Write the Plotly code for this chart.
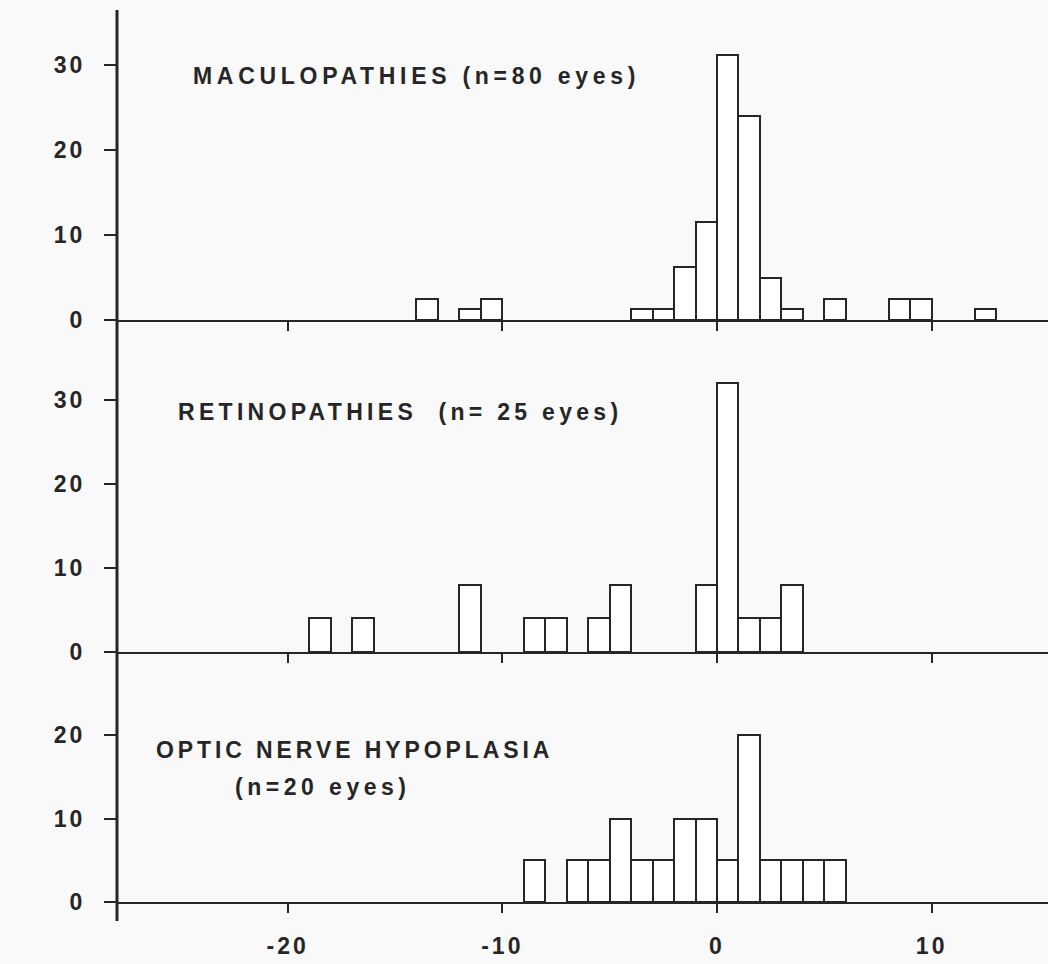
import plotly.graph_objects as go
from plotly.subplots import make_subplots

# Bin left edges (diopters) and percentage of eyes per bin
mac_bins = [-14, -12, -11, -4, -3, -2, -1, 0, 1, 2, 3, 5, 8, 9, 12]
mac_vals = [2.5, 1.25, 2.5, 1.25, 1.25, 6.25, 11.5, 31.25, 24, 5, 1.25, 2.5, 2.5, 2.5, 1.25]

ret_bins = [-19, -17, -12, -9, -8, -6, -5, -1, 0, 1, 2, 3]
ret_vals = [4, 4, 8, 4, 4, 4, 8, 8, 32, 4, 4, 8]

onh_bins = [-9, -7, -6, -5, -4, -3, -2, -1, 0, 1, 2, 3, 4, 5]
onh_vals = [5, 5, 5, 10, 5, 5, 10, 10, 5, 20, 5, 5, 5, 5]

x_ticks = [-20, -10, 0, 10]
y_ticks_top = [0, 10, 20, 30]
y_ticks_bot = [0, 10, 20]

labels = ["MACULOPATHIES (n=80 eyes)", "RETINOPATHIES&nbsp;&nbsp;(n= 25 eyes)",
          "OPTIC NERVE HYPOPLASIA", "(n=20 eyes)"]

INK = "#262626"
BG = "#f9f9f9"
FONT = "Liberation Sans, Arial, sans-serif"


def sp(t, ls=3):
    return f'<span style="letter-spacing:{ls}px">{t}</span>'


fig = make_subplots(rows=3, cols=1, shared_xaxes=True, vertical_spacing=0)

for r, (b, v) in enumerate([(mac_bins, mac_vals), (ret_bins, ret_vals), (onh_bins, onh_vals)], start=1):
    fig.add_trace(go.Bar(x=[e + 0.5 for e in b], y=v, width=1,
                         marker=dict(color="white", line=dict(color=INK, width=2)),
                         showlegend=False, hoverinfo="skip"), row=r, col=1)

H = 892.0
d3 = 250 / H
d2 = 582 / H
xr = [-27.95, 15.42]
tick_font = dict(family=FONT, size=23, color=INK, weight="bold")

for r, dom, top, ticks in [(1, [d2, 1.0], 36.5, y_ticks_top),
                           (2, [d3, d2], 39.5, y_ticks_top),
                           (3, [0.0, d3], 29.94, y_ticks_bot)]:
    fig.update_yaxes(row=r, col=1, domain=dom, range=[0, top],
                     tickvals=ticks, ticktext=[sp(str(t), 3) for t in ticks],
                     ticks="outside", ticklen=12, tickwidth=2, tickcolor=INK,
                     showline=False, showgrid=False, zeroline=False,
                     ticklabelstandoff=14, tickfont=tick_font)
    fig.update_xaxes(row=r, col=1, range=xr, tickvals=x_ticks,
                     ticktext=[sp(str(t), 3) for t in x_ticks],
                     showline=True, linewidth=2, linecolor=INK,
                     ticks="outside", ticklen=9, tickwidth=2, tickcolor=INK,
                     showgrid=False, zeroline=False,
                     showticklabels=(r == 3), ticklabelstandoff=13,
                     tickfont=tick_font)

# vertical left axis line spanning all panels, extending slightly below
fig.add_shape(type="line", xref="paper", yref="paper", x0=0, x1=0,
              y0=-19 / H, y1=1.0, line=dict(color=INK, width=3), layer="above")

ann_font = dict(family=FONT, size=23, color=INK, weight="bold")
fig.add_annotation(x=-24.52, y=28.7, xref="x", yref="y", text=sp(labels[0], 4.7),
                   showarrow=False, xanchor="left", yanchor="middle", font=ann_font)
fig.add_annotation(x=-25.22, y=28.6, xref="x2", yref="y2", text=sp(labels[1], 4.3),
                   showarrow=False, xanchor="left", yanchor="middle", font=ann_font)
fig.add_annotation(x=-26.24, y=18.2, xref="x3", yref="y3", text=sp(labels[2], 3.9),
                   showarrow=False, xanchor="left", yanchor="middle", font=ann_font)
fig.add_annotation(x=-22.56, y=13.8, xref="x3", yref="y3", text=sp(labels[3], 4.5),
                   showarrow=False, xanchor="left", yanchor="middle", font=ann_font)

fig.update_layout(width=1048, height=964, margin=dict(l=117, r=0, t=10, b=62),
                  paper_bgcolor=BG, plot_bgcolor=BG, bargap=0, showlegend=False)

# remove the default page margin so the figure fills the window exactly
fig.write_html("out.html", config={"displayModeBar": False},
               post_script="document.body.style.margin='0';"
                           "document.body.style.overflow='hidden';"
                           "document.body.style.background='" + BG + "';")
